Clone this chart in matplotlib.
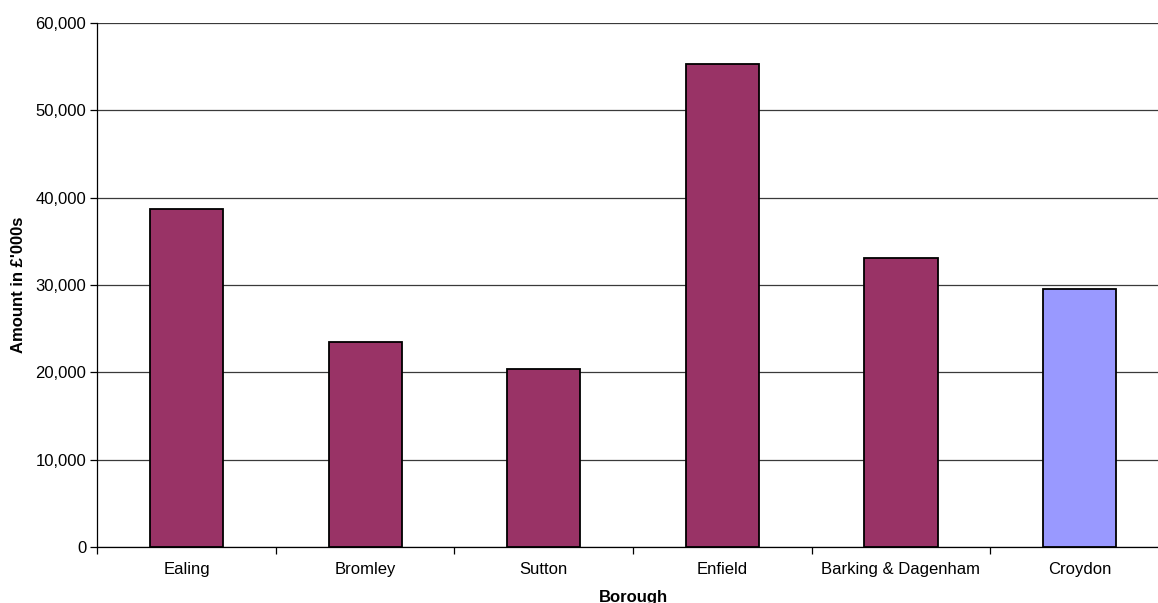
import matplotlib

matplotlib.use("Agg")
import matplotlib.pyplot as plt
from matplotlib.ticker import FuncFormatter

boroughs = ["Ealing", "Bromley", "Sutton", "Enfield", "Barking & Dagenham", "Croydon"]
amounts = [38700, 23500, 20400, 55300, 33100, 29500]
bar_colors = ["#993366", "#993366", "#993366", "#993366", "#993366", "#9999FF"]
y_ticks = [0, 10000, 20000, 30000, 40000, 50000, 60000]

plt.rcParams["font.family"] = ["Liberation Sans", "DejaVu Sans"]

fig = plt.figure(figsize=(11.58, 6.03), dpi=100)
# plot area runs past the right edge of the picture (cropped like the original)
ax = fig.add_axes([0.0840, 0.0929, 0.9253, 0.869])

x = list(range(len(boroughs)))
ax.bar(x, amounts, width=0.41, color=bar_colors, edgecolor="black", linewidth=1.3, zorder=3)

ax.set_xlim(-0.5, len(boroughs) - 0.5)
ax.set_ylim(0, 60000)
ax.set_yticks(y_ticks)
ax.yaxis.set_major_formatter(FuncFormatter(lambda v, p: f"{int(v):,}"))
ax.grid(axis="y", color="#3a3a3a", linewidth=0.9, zorder=0)

# category labels centred, tick marks on the category boundaries
ax.set_xticks(x)
ax.set_xticklabels(boroughs, fontsize=12)
ax.tick_params(axis="x", which="major", length=0, pad=11)
ax.set_xticks([i + 0.5 for i in range(-1, len(boroughs))], minor=True)
ax.tick_params(axis="x", which="minor", length=5, width=0.9, direction="out")
ax.tick_params(axis="y", length=5, width=0.9, labelsize=12, direction="out", pad=3)

for side in ["top", "right"]:
    ax.spines[side].set_visible(False)
ax.spines["left"].set_linewidth(0.9)
ax.spines["bottom"].set_linewidth(0.9)

ax.set_xlabel("Borough", fontsize=12, fontweight="bold", labelpad=9)
ax.set_ylabel("Amount in \u00a3'000s", fontsize=12, fontweight="bold", labelpad=7)

fig.savefig("out.png", dpi=100)
